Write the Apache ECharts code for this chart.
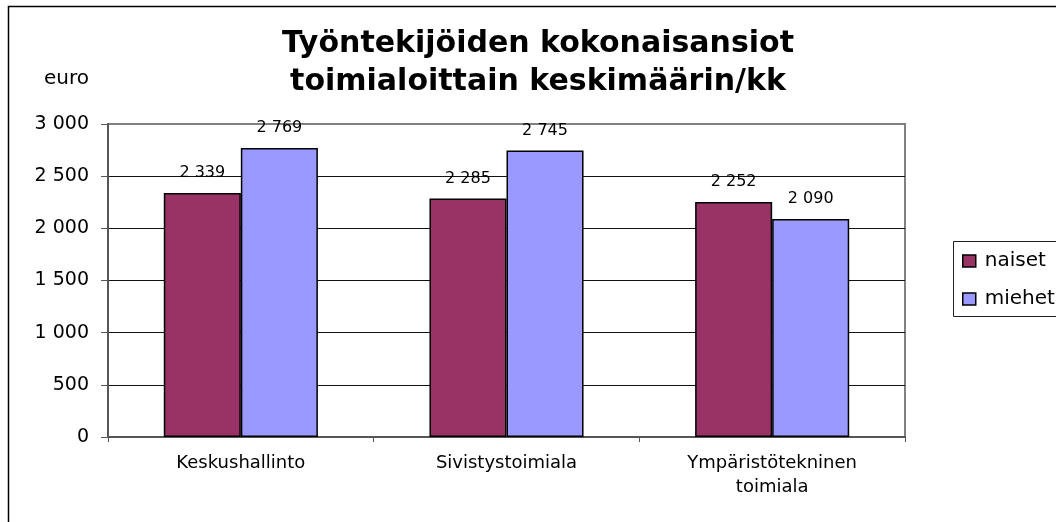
<!DOCTYPE html>
<html>
<head>
<meta charset="utf-8">
<script src="https://cdn.jsdelivr.net/npm/echarts@6/dist/echarts.min.js"></script>
<style>
  html, body { margin: 0; padding: 0; background: #ffffff; }
  #chart { width: 1056px; height: 522px; }
</style>
</head>
<body>
<div id="chart"></div>
<script>
const titleText = 'Työntekijöiden kokonaisansiot\ntoimialoittain keskimäärin/kk';
const unitLabel = 'euro';
const categories = ['Keskushallinto', 'Sivistystoimiala', 'Ympäristötekninen\ntoimiala'];
const seriesNames = ['naiset', 'miehet'];
const naiset = [2339, 2285, 2252];
const miehet = [2769, 2745, 2090];
const yMin = 0, yMax = 3000, yStep = 500;

const FONT = '"DejaVu Sans", sans-serif';
function fmt(v) { return String(v).replace(/\B(?=(\d{3})+(?!\d))/g, ' '); }

const chart = echarts.init(document.getElementById('chart'));
chart.setOption({
  backgroundColor: '#ffffff',
  animation: false,
  title: {
    text: titleText,
    left: 538, top: 25, padding: 0,
    textAlign: 'center',
    textStyle: { fontFamily: FONT, fontWeight: 'bold', fontSize: 30, lineHeight: 38, color: '#000' }
  },
  graphic: [
    { type: 'rect', shape: { x: 8.5, y: 6.5, width: 1200, height: 1000 }, style: { fill: 'none', stroke: '#000', lineWidth: 1.5 }, z: 100 },
    { type: 'rect', shape: { x: 953.5, y: 241.5, width: 200, height: 75 }, style: { fill: '#fff', stroke: '#222', lineWidth: 1 }, z: 1 }
  ],
  legend: {
    orient: 'vertical',
    left: 962, top: 251, padding: 0,
    itemWidth: 13, itemHeight: 12, itemGap: 18,
    icon: 'rect',
    itemStyle: { borderColor: '#000', borderWidth: 1.5 },
    textStyle: { fontFamily: FONT, fontSize: 20, lineHeight: 20, color: '#000', padding: [0, 0, 0, 4] },
    data: seriesNames,
    z: 10
  },
  grid: { left: 108, right: 151, top: 124, bottom: 85, containLabel: false, outerBoundsMode: 'none',
          show: true, borderColor: '#808080', borderWidth: 2, backgroundColor: 'transparent' },
  xAxis: {
    type: 'category',
    data: categories,
    axisLine: { lineStyle: { color: '#555', width: 2 } },
    axisTick: { show: true, length: 5, interval: 0, lineStyle: { color: '#555', width: 1 } },
    axisLabel: { interval: 0, margin: 14, fontFamily: FONT, fontSize: 18, lineHeight: 24, color: '#000' },
    splitLine: { show: false }
  },
  yAxis: {
    type: 'value',
    min: yMin, max: yMax, interval: yStep,
    name: unitLabel,
    nameLocation: 'end',
    nameGap: 45,
    nameTextStyle: { fontFamily: FONT, fontSize: 20, color: '#000', align: 'right', verticalAlign: 'middle', padding: [0, 19, 0, 0] },
    axisLine: { show: true, lineStyle: { color: '#555', width: 2 } },
    axisTick: { show: true, length: 7, lineStyle: { color: '#555', width: 1 } },
    axisLabel: { margin: 19, fontFamily: FONT, fontSize: 19, color: '#000', formatter: fmt },
    splitLine: { show: true, lineStyle: { color: ['#111', '#111', '#111', '#111', '#111', '#111', '#808080'], width: 1 } }
  },
  series: [
    {
      name: seriesNames[0], type: 'bar', data: naiset,
      barGap: '0%', barCategoryGap: '42%',
      itemStyle: { color: '#993366', borderColor: '#000', borderWidth: 1.5 },
      label: { show: true, position: 'top', distance: 12, fontFamily: FONT, fontSize: 16, lineHeight: 16, color: '#000', formatter: p => fmt(p.value) }
    },
    {
      name: seriesNames[1], type: 'bar', data: miehet,
      barGap: '0%', barCategoryGap: '42%',
      itemStyle: { color: '#9999FF', borderColor: '#000', borderWidth: 1.5 },
      label: { show: true, position: 'top', distance: 12, fontFamily: FONT, fontSize: 16, lineHeight: 16, color: '#000', formatter: p => fmt(p.value) }
    }
  ]
});
</script>
</body>
</html>
